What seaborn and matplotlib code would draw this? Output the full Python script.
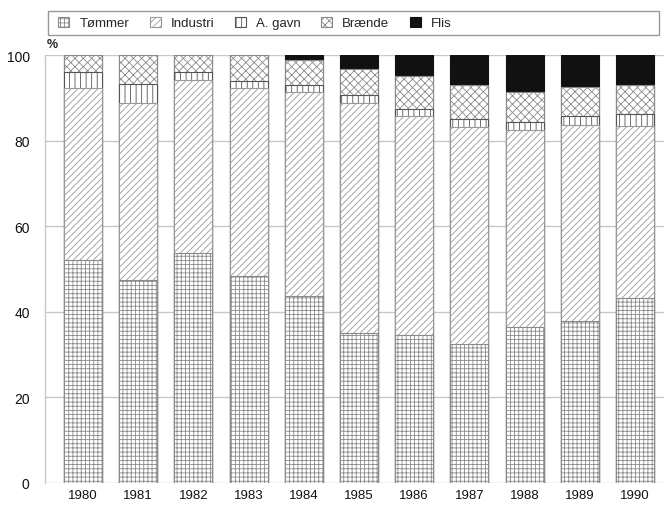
import matplotlib
matplotlib.use("Agg")
import matplotlib.pyplot as plt
from matplotlib.patches import Patch, Rectangle
import seaborn as sns
import pandas as pd
import numpy as np

years = ["1980", "1981", "1982", "1983", "1984", "1985",
         "1986", "1987", "1988", "1989", "1990"]
series = ["Tømmer", "Industri", "A. gavn", "Brænde", "Flis"]

# share of each assortment (%)
tommer = [52.0, 47.5, 53.7, 48.4, 43.8, 35.0, 34.6, 32.5, 36.4, 37.9, 43.2]
industri = [40.4, 41.4, 40.5, 43.8, 47.5, 53.9, 51.2, 50.6, 46.1, 45.7, 40.3]
a_gavn = [3.6, 4.3, 1.8, 1.8, 1.7, 1.8, 1.7, 1.9, 1.8, 2.1, 2.7]
braende = [4.0, 6.8, 4.0, 6.0, 5.8, 6.0, 7.7, 8.0, 7.1, 6.9, 6.8]
flis = [0.0, 0.0, 0.0, 0.0, 1.2, 3.3, 4.8, 7.0, 8.6, 7.4, 7.0]

hatches = ["++++", "/////", "|||", "xxxx", ""]
faces = ["white", "white", "white", "white", "#111111"]
edges = ["#8a8a8a", "#999999", "#555555", "#8a8a8a", "#111111"]

sns.set_theme(style="whitegrid")
plt.rcParams["font.family"] = ["Liberation Sans", "DejaVu Sans"]
plt.rcParams["hatch.linewidth"] = 0.6

df = pd.DataFrame({"year": years, "Tømmer": tommer, "Industri": industri,
                   "A. gavn": a_gavn, "Brænde": braende, "Flis": flis})
cum = df[series].cumsum(axis=1)

fig = plt.figure(figsize=(6.64, 5.06), dpi=100)
ax = fig.add_axes([45 / 664, 1 - 484 / 506, 1 - 45 / 664 + 0.002, 428 / 506])

# draw cumulative totals from the top down so each layer covers the previous
for i in range(len(series) - 1, -1, -1):
    sns.barplot(x=df["year"], y=cum[series[i]], ax=ax, color=faces[i],
                width=0.69, edgecolor=edges[i], hatch=hatches[i],
                linewidth=0.8, saturation=1, zorder=2)

ax.set_ylim(0, 100)
ax.set_xlim(-0.69, 10.55)
ax.set_yticks([0, 20, 40, 60, 80, 100])
ax.set_xlabel("")
ax.set_ylabel("")
ax.grid(axis="y", color="#c8c8c8", linewidth=1.0)
ax.grid(axis="x", visible=False)
ax.set_axisbelow(True)
ax.tick_params(axis="y", pad=11, labelsize=10, length=0, colors="#111111")
ax.tick_params(axis="x", pad=4.5, labelsize=9.5, length=0, colors="#111111")
for s in ["top", "right", "bottom"]:
    ax.spines[s].set_visible(False)
ax.spines["left"].set_color("#c8c8c8")
ax.spines["left"].set_linewidth(1.0)

fig.text(47 / 664, 1 - 45 / 506, "%", fontsize=9, fontweight="bold",
         ha="left", va="center")

# legend box
fig.patches.append(Rectangle((48 / 664, 1 - 36 / 506), 611 / 664, 24 / 506,
                             transform=fig.transFigure, fill=False,
                             edgecolor="#999999", linewidth=1.0))
handles = [Patch(facecolor=faces[i], edgecolor=edges[i], hatch=hatches[i],
                 linewidth=0.8) for i in range(len(series))]
fig.legend(handles, series, loc="center left",
           bbox_to_anchor=(53 / 664, 1 - 24 / 506), ncol=5, frameon=False,
           fontsize=9.5, handlelength=0.85, handleheight=0.85,
           handletextpad=0.75, columnspacing=1.55, borderaxespad=0)

fig.savefig("out.png", dpi=100)
